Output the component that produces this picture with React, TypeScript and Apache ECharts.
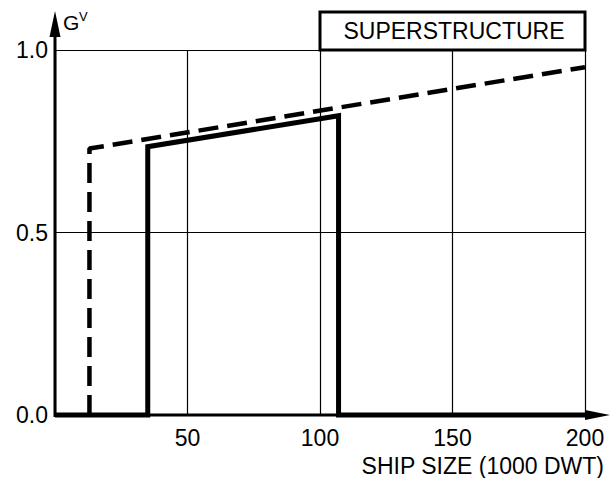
import React, { useEffect, useRef } from "react";
import * as echarts from "echarts";

// Ship size (1000 DWT) and GV values for the solid curve
const solidSize = [0, 35, 35, 107, 107, 200];
const solidGv = [0, 0, 0.735, 0.82, 0, 0];
// Dashed curve
const dashedSize = [13, 13, 200];
const dashedGv = [0, 0.73, 0.953];

const xMin = 0;
const xMax = 200;
const xInterval = 50;
const yMin = 0;
const yMax = 1;
const yInterval = 0.5;

const legendLabel = "SUPERSTRUCTURE";
const xAxisTitle = "SHIP SIZE (1000 DWT)";
const yAxisTitle = "G";
const yAxisTitleSup = "V";

const FONT = "'Liberation Sans', Arial, Helvetica, sans-serif";

export default function App() {
  const ref = useRef<HTMLDivElement>(null);
  useEffect(() => {
    if (!ref.current) return;
    const chart = echarts.init(ref.current, undefined, { renderer: "svg" });
    const W = 611;
    const H = 478;
    const gl = 55, gr = 26, gt = 50, gb = 63;
    const left = gl, right = W - gr, top = gt, bottom = H - gb;
    chart.setOption({
      animation: false,
      backgroundColor: "#ffffff",
      grid: { left: gl, right: gr, top: gt, bottom: gb, containLabel: false, outerBoundsMode: "none" },
      xAxis: {
        type: "value",
        min: xMin,
        max: xMax,
        interval: xInterval,
        axisLine: { show: false },
        axisTick: { show: false },
        splitLine: { show: true, lineStyle: { color: "#000", width: 1.2 } },
        axisLabel: {
          color: "#000",
          fontSize: 23,
          fontFamily: FONT,
          margin: 11,
          formatter: (v: number) => (v === 0 ? "" : String(v)),
        },
      },
      yAxis: {
        type: "value",
        min: yMin,
        max: yMax,
        interval: yInterval,
        axisLine: { show: false },
        axisTick: { show: false },
        splitLine: { show: true, lineStyle: { color: "#000", width: 1.2 } },
        axisLabel: {
          color: "#000",
          fontSize: 23,
          fontFamily: FONT,
          margin: 7,
          formatter: (v: number) => v.toFixed(1),
        },
      },
      series: [
        {
          type: "line",
          data: dashedSize.map((x, i) => [x, dashedGv[i]]),
          symbol: "none",
          clip: false,
          z: 3,
          lineStyle: { color: "#000", width: 4.5, type: [20, 9] },
        },
        {
          type: "line",
          data: solidSize.map((x, i) => [x, solidGv[i]]),
          symbol: "none",
          clip: false,
          z: 4,
          lineStyle: { color: "#000", width: 5, join: "miter" },
        },
      ],
      graphic: [
        // x axis line with arrow
        { type: "line", z: 10, shape: { x1: left, y1: bottom, x2: W - 18, y2: bottom }, style: { stroke: "#000", lineWidth: 3 } },
        { type: "polygon", z: 10, shape: { points: [[W - 26, bottom - 5], [W - 1, bottom], [W - 26, bottom + 5]] }, style: { fill: "#000" } },
        // y axis line with arrow
        { type: "line", z: 10, shape: { x1: left, y1: bottom + 2, x2: left, y2: 30 }, style: { stroke: "#000", lineWidth: 3 } },
        { type: "polygon", z: 10, shape: { points: [[left - 5.5, 37], [left, 11], [left + 5.5, 37]] }, style: { fill: "#000" } },
        // y axis title
        { type: "text", z: 10, x: 63, y: 22, style: { text: yAxisTitle, font: `21px ${FONT}`, fill: "#000", textAlign: "left", textVerticalAlign: "middle", align: "left", verticalAlign: "middle" } },
        { type: "text", z: 10, x: 79, y: 16, style: { text: yAxisTitleSup, font: `13px ${FONT}`, fill: "#000", textAlign: "left", textVerticalAlign: "middle", align: "left", verticalAlign: "middle" } },
        // x axis title
        { type: "text", z: 10, x: 604, y: 466, style: { text: xAxisTitle, font: `23px ${FONT}`, fill: "#000", textAlign: "right", textVerticalAlign: "middle", align: "right", verticalAlign: "middle" } },
        // legend box
        { type: "rect", z: 10, shape: { x: 320, y: 12, width: right - 320, height: top - 12 }, style: { fill: "#fff", stroke: "#000", lineWidth: 3 } },
        { type: "text", z: 11, x: 454, y: 31, style: { text: legendLabel, font: `23px ${FONT}`, fill: "#000", textAlign: "center", textVerticalAlign: "middle", align: "center", verticalAlign: "middle" } },
      ],
    });
    return () => chart.dispose();
  }, []);
  return <div ref={ref} style={{ position: "fixed", left: 0, top: 0, width: 611, height: 478 }} />;
}
